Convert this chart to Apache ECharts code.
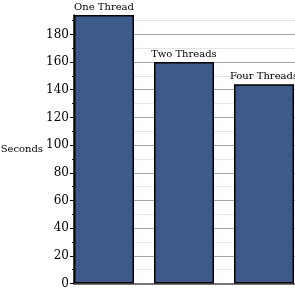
<!DOCTYPE html>
<html><head><meta charset="utf-8">
<script src="https://cdn.jsdelivr.net/npm/echarts@6/dist/echarts.min.js"></script>
<style>html,body{margin:0;padding:0;background:#fff}#c{width:295px;height:295px}</style>
</head><body><div id="c"></div>
<script>
const categories = ['One Thread', 'Two Threads', 'Four Threads'];
const seconds = [194, 160, 144];
const tickValues = [0, 20, 40, 60, 80, 100, 120, 140, 160, 180];
const axisName = 'Seconds';
const yMax = 194;

const chart = echarts.init(document.getElementById('c'), null, {renderer: 'canvas'});
const serif = 'DejaVu Serif';
chart.setOption({
  animation: false,
  backgroundColor: '#fff',
  grid: {left: 74, top: 15, bottom: 11.5, width: 240, outerBoundsMode: 'none', containLabel: false},
  xAxis: {
    type: 'category', data: categories, boundaryGap: true,
    axisLine: {show: true, lineStyle: {color: '#777', width: 2}},
    axisTick: {show: false}, axisLabel: {show: false}, splitLine: {show: false}
  },
  yAxis: [{
    type: 'value', min: 0, max: yMax, interval: 20,
    name: axisName, nameLocation: 'middle', nameRotate: 0, nameGap: 31, nameMoveOverlap: false,
    nameTextStyle: {fontFamily: serif, fontSize: 10, color: '#000', padding: [0, 0, 3, 0]},
    axisLine: {show: true, lineStyle: {color: '#000', width: 1.5}},
    axisTick: {show: true, length: 4, customValues: tickValues, lineStyle: {color: '#000', width: 1}},
    minorTick: {show: true, splitNumber: 2, length: 2, lineStyle: {color: '#000', width: 1}},
    axisLabel: {customValues: tickValues, fontFamily: serif, fontSize: 12, color: '#000', margin: 5},
    splitLine: {show: false}
  }, {
    type: 'value', min: 0, max: yMax, interval: 10,
    axisLine: {show: false}, axisTick: {show: false}, axisLabel: {show: false},
    splitLine: {show: true, showMinLine: false, showMaxLine: false, lineStyle: {color: ['#e4e4e4', '#a6a6a6'], width: 1}}
  }],
  series: [{
    type: 'bar', yAxisIndex: 0, data: seconds, barWidth: 60, barGap: '0%',
    itemStyle: {color: '#3d5a8b', borderColor: '#000', borderWidth: 1.5},
    label: {show: true, position: 'top', distance: 3, formatter: p => p.name,
      fontFamily: serif, fontSize: 10, color: '#000'}
  }, {
    type: 'bar', yAxisIndex: 0, data: categories.map(() => null), barWidth: 20, barGap: '0%', silent: true
  }]
});
</script></body></html>
